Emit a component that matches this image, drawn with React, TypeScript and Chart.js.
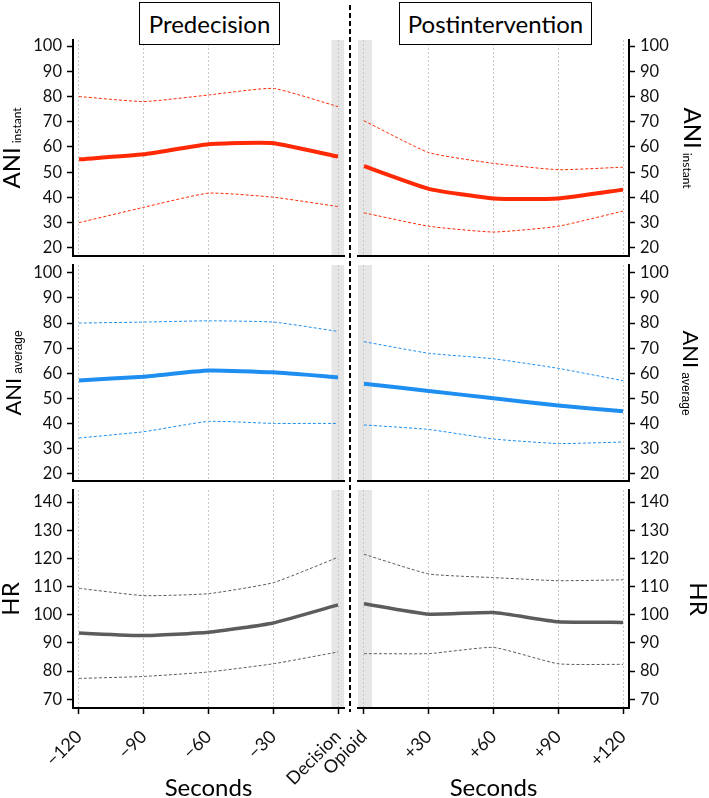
import React, { useEffect, useRef } from "react";
import { Chart, registerables } from "chart.js";

Chart.register(...registerables);

const FONT = "Lato, 'Open Sans', sans-serif";

// ---------- data ----------
const preLabels = ["\u2212120", "\u221290", "\u221260", "\u221230", "Decision"];
const postLabels = ["Opioid", "+30", "+60", "+90", "+120"];

const aniTicks = [20, 30, 40, 50, 60, 70, 80, 90, 100];
const hrTicks = [70, 80, 90, 100, 110, 120, 130, 140];

const aniInstantPreMean = [55.1, 57.1, 61.1, 61.5, 56.2];
const aniInstantPreUpper = [80.0, 78.0, 80.6, 83.2, 76.0];
const aniInstantPreLower = [30.0, 36.1, 41.7, 40.1, 36.4];
const aniInstantPostMean = [52.4, 43.4, 39.6, 39.6, 43.1];
const aniInstantPostUpper = [70.4, 57.8, 53.5, 51.0, 52.0];
const aniInstantPostLower = [33.9, 28.6, 26.3, 28.6, 34.6];

const aniAveragePreMean = [57.2, 58.7, 61.1, 60.4, 58.4];
const aniAveragePreUpper = [80.0, 80.4, 80.9, 80.4, 76.7];
const aniAveragePreLower = [34.3, 36.8, 40.9, 40.1, 40.1];
const aniAveragePostMean = [55.9, 53.0, 50.1, 47.2, 44.9];
const aniAveragePostUpper = [72.6, 68.0, 65.8, 62.0, 57.1];
const aniAveragePostLower = [39.5, 37.7, 33.9, 32.1, 32.7];

const hrPreMean = [93.5, 92.6, 93.8, 97.1, 103.5];
const hrPreUpper = [109.4, 106.8, 107.5, 111.4, 120.4];
const hrPreLower = [77.4, 78.1, 79.7, 82.6, 86.8];
const hrPostMean = [103.9, 100.2, 100.8, 97.5, 97.3];
const hrPostUpper = [121.5, 114.5, 113.2, 112.1, 112.4];
const hrPostLower = [86.2, 86.2, 88.4, 82.6, 82.4];

// ---------- layout / style ----------
const W = 709;
const H = 798;
const ROWS = [
  { top: 40, bottom: 256 },
  { top: 265, bottom: 481 },
  { top: 490, bottom: 708 },
];
const COLS = {
  left: { left: 73, right: 344 },
  right: { left: 358, right: 629 },
};
const X_MIN = -0.0925;
const X_MAX = 4.0925;

const RED = "#ff2a05";
const BLUE = "#1e8ff0";
const GRAY = "#5c5c5c";

type Spec = {
  side: "left" | "right";
  row: number;
  labels: string[];
  mean: number[];
  upper: number[];
  lower: number[];
  color: string;
  mainWidth: number;
  yMin: number;
  yMax: number;
  yTicks: number[];
  titleMain: string;
  titleSub: string;
  titleSize: number;
  subSize: number;
  subFont: string;
  titleBase: number;
  band: [number, number];
};

const RANGES = [
  [16.8, 102.4],
  [17.2, 103.1],
  [66.9, 144.3],
];

const specs: Spec[] = [
  {
    side: "left", row: 0, labels: preLabels,
    mean: aniInstantPreMean, upper: aniInstantPreUpper, lower: aniInstantPreLower,
    color: RED, mainWidth: 4, yMin: RANGES[0][0], yMax: RANGES[0][1], yTicks: aniTicks,
    titleMain: "ANI", titleSub: "instant", titleSize: 24, subSize: 12, subFont: FONT, titleBase: 20, band: [3.9, X_MAX],
  },
  {
    side: "right", row: 0, labels: postLabels,
    mean: aniInstantPostMean, upper: aniInstantPostUpper, lower: aniInstantPostLower,
    color: RED, mainWidth: 4, yMin: RANGES[0][0], yMax: RANGES[0][1], yTicks: aniTicks,
    titleMain: "ANI", titleSub: "instant", titleSize: 24, subSize: 12, subFont: FONT, titleBase: 684, band: [X_MIN, 0.124],
  },
  {
    side: "left", row: 1, labels: preLabels,
    mean: aniAveragePreMean, upper: aniAveragePreUpper, lower: aniAveragePreLower,
    color: BLUE, mainWidth: 4, yMin: RANGES[1][0], yMax: RANGES[1][1], yTicks: aniTicks,
    titleMain: "ANI", titleSub: "average", titleSize: 22, subSize: 12, subFont: "'Liberation Sans', Arial, sans-serif", titleBase: 21, band: [3.9, X_MAX],
  },
  {
    side: "right", row: 1, labels: postLabels,
    mean: aniAveragePostMean, upper: aniAveragePostUpper, lower: aniAveragePostLower,
    color: BLUE, mainWidth: 4, yMin: RANGES[1][0], yMax: RANGES[1][1], yTicks: aniTicks,
    titleMain: "ANI", titleSub: "average", titleSize: 22, subSize: 12, subFont: "'Liberation Sans', Arial, sans-serif", titleBase: 683, band: [X_MIN, 0.124],
  },
  {
    side: "left", row: 2, labels: preLabels,
    mean: hrPreMean, upper: hrPreUpper, lower: hrPreLower,
    color: GRAY, mainWidth: 3.5, yMin: RANGES[2][0], yMax: RANGES[2][1], yTicks: hrTicks,
    titleMain: "HR", titleSub: "", titleSize: 24, subSize: 12, subFont: FONT, titleBase: 19, band: [3.9, X_MAX],
  },
  {
    side: "right", row: 2, labels: postLabels,
    mean: hrPostMean, upper: hrPostUpper, lower: hrPostLower,
    color: GRAY, mainWidth: 3.5, yMin: RANGES[2][0], yMax: RANGES[2][1], yTicks: hrTicks,
    titleMain: "HR", titleSub: "", titleSize: 24, subSize: 12, subFont: FONT, titleBase: 690, band: [X_MIN, 0.124],
  },
];

function makeDecor(spec: Spec) {
  return {
    id: "decor",
    beforeDraw(chart: any) {
      const { ctx, chartArea, scales } = chart;
      const xs = scales.x;
      const a = xs.getPixelForValue(spec.band[0]);
      const b = xs.getPixelForValue(spec.band[1]);
      ctx.save();
      ctx.fillStyle = "#e6e6e6";
      ctx.fillRect(a, chartArea.top, b - a, chartArea.bottom - chartArea.top);
      ctx.restore();
    },
    afterDraw(chart: any) {
      const { ctx, chartArea } = chart;
      const cy = (chartArea.top + chartArea.bottom) / 2;
      ctx.save();
      ctx.fillStyle = "#000";
      ctx.textBaseline = "alphabetic";
      ctx.textAlign = "left";
      const mainFont = `${spec.titleSize}px ${FONT}`;
      const subFont = `${spec.subSize}px ${spec.subFont}`;
      ctx.font = mainFont;
      const wM = ctx.measureText(spec.titleMain).width;
      ctx.font = subFont;
      const wS = spec.titleSub ? ctx.measureText(spec.titleSub).width : 0;
      const gap = spec.titleSub ? 4 : 0;
      const total = wM + gap + wS;
      ctx.translate(spec.titleBase, cy);
      ctx.rotate(spec.side === "left" ? -Math.PI / 2 : Math.PI / 2);
      ctx.font = mainFont;
      ctx.fillText(spec.titleMain, -total / 2, 0);
      if (spec.titleSub) {
        ctx.font = subFont;
        ctx.fillText(spec.titleSub, -total / 2 + wM + gap, 1);
      }
      ctx.restore();
    },
  };
}

function Panel({ spec }: { spec: Spec }) {
  const ref = useRef<HTMLCanvasElement>(null);
  useEffect(() => {
    const canvas = ref.current;
    if (!canvas) return;
    const row = ROWS[spec.row];
    const col = COLS[spec.side];
    const isBottom = spec.row === 2;
    const xAxisHeight = isBottom ? H - row.bottom : 0;
    const yAxisWidth = spec.side === "left" ? col.left : W - col.right;
    const pts = (arr: number[]) => arr.map((v, i) => ({ x: i, y: v }));
    const chart = new Chart(canvas, {
      type: "line",
      data: {
        datasets: [
          {
            data: pts(spec.upper),
            borderColor: spec.color,
            borderWidth: 1,
            borderDash: [3, 2],
            pointRadius: 0,
            tension: 0.15,
            fill: false,
          },
          {
            data: pts(spec.lower),
            borderColor: spec.color,
            borderWidth: 1,
            borderDash: [3, 2],
            pointRadius: 0,
            tension: 0.15,
            fill: false,
          },
          {
            data: pts(spec.mean),
            borderColor: spec.color,
            borderWidth: spec.mainWidth,
            pointRadius: 0,
            tension: 0.15,
            fill: false,
          },
        ],
      },
      options: {
        responsive: false,
        animation: false,
        devicePixelRatio: 1,
        events: [],
        layout: {
          padding: {
            left: spec.side === "left" ? 0 : col.left,
            right: spec.side === "left" ? W - col.right : 0,
            top: row.top,
            bottom: H - row.bottom - xAxisHeight,
          },
        },
        plugins: {
          legend: { display: false },
          tooltip: { enabled: false },
          title: { display: false },
        },
        scales: {
          x: {
            type: "linear",
            min: X_MIN,
            max: X_MAX,
            afterBuildTicks: (s: any) => {
              s.ticks = spec.labels.map((_, i) => ({ value: i }));
            },
            afterFit: (s: any) => {
              s.height = xAxisHeight;
              s.paddingLeft = 0;
              s.paddingRight = 0;
            },
            ticks: {
              display: isBottom,
              autoSkip: false,
              minRotation: 45,
              maxRotation: 45,
              padding: 12,
              color: "#111",
              font: { family: FONT, size: 18 },
              callback: (v: any) => spec.labels[Math.round(Number(v))] ?? "",
            },
            grid: {
              display: true,
              drawOnChartArea: true,
              drawTicks: isBottom,
              tickLength: 6,
              color: "#c8c8c8",
              lineWidth: 1,
              tickColor: "#000",
              tickWidth: 1.5,
              tickBorderDash: [],
            },
            border: { display: true, color: "#000", width: 2, dash: [2, 2] },
            title: {
              display: isBottom,
              text: "Seconds",
              color: "#000",
              font: { family: FONT, size: 24, lineHeight: 1 },
              padding: { top: 0, bottom: -2 },
            },
          },
          y: {
            type: "linear",
            position: spec.side,
            min: spec.yMin,
            max: spec.yMax,
            afterBuildTicks: (s: any) => {
              s.ticks = spec.yTicks.map((v) => ({ value: v }));
            },
            afterFit: (s: any) => {
              s.width = yAxisWidth;
              s.paddingTop = 0;
              s.paddingBottom = 0;
            },
            ticks: {
              padding: 5,
              color: "#111",
              font: { family: FONT, size: 16.5 },
            },
            grid: {
              display: true,
              drawOnChartArea: false,
              drawTicks: true,
              tickLength: 6,
              tickColor: "#000",
              tickWidth: 1.5,
              tickBorderDash: [],
            },
            border: { display: true, color: "#000", width: 2 },
          },
        },
      },
      plugins: [makeDecor(spec)],
    } as any);
    return () => chart.destroy();
  }, [spec]);
  return (
    <canvas
      ref={ref}
      width={W}
      height={H}
      style={{ position: "absolute", left: 0, top: 0, width: W, height: H }}
    />
  );
}

const boxStyle: React.CSSProperties = {
  position: "absolute",
  top: 2,
  height: 43,
  boxSizing: "border-box",
  border: "1.5px solid #000",
  background: "#fff",
  fontFamily: FONT,
  fontSize: 24,
  color: "#000",
  display: "flex",
  alignItems: "center",
  justifyContent: "center",
};

export default function App() {
  return (
    <div
      style={{
        position: "absolute",
        left: 0,
        top: 0,
        width: W,
        height: H,
        background: "#fff",
        overflow: "hidden",
      }}
    >
      {specs.map((s, i) => (
        <Panel key={i} spec={s} />
      ))}
      <div
        style={{
          position: "absolute",
          left: 349,
          top: 5,
          width: 2,
          height: 707,
          background:
            "repeating-linear-gradient(to bottom, #000 0px, #000 5px, transparent 5px, transparent 8px)",
        }}
      />
      <div style={{ ...boxStyle, left: 139, width: 141 }}>Predecision</div>
      <div style={{ ...boxStyle, left: 399, width: 193 }}>Postintervention</div>
    </div>
  );
}
